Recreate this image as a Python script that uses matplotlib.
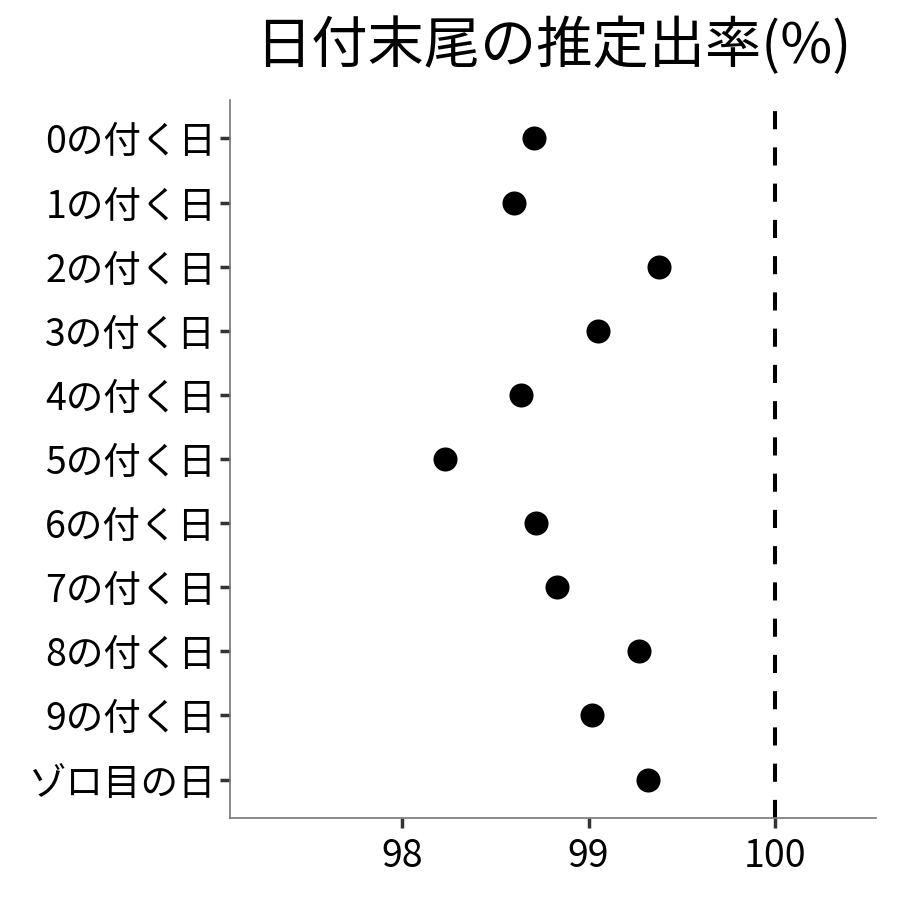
import matplotlib
matplotlib.use("Agg")
import matplotlib.pyplot as plt

plt.rcParams['font.family'] = ['Noto Sans CJK JP', 'DejaVu Sans']

# データ（図から読み取った推定値）
labels = ['0の付く日', '1の付く日', '2の付く日', '3の付く日', '4の付く日',
          '5の付く日', '6の付く日', '7の付く日', '8の付く日', '9の付く日',
          'ゾロ目の日']
rates = [98.71, 98.60, 99.38, 99.05, 98.64, 98.23, 98.72, 98.83, 99.27, 99.02, 99.32]
xticks = [98, 99, 100]
ref_line = 100

fig = plt.figure(figsize=(9, 9), dpi=100)
ax = fig.add_axes([0.2556, 0.0911, 0.7178, 0.7978])

ypos = list(range(len(labels)))
ax.scatter(rates, ypos, s=300, color='black', zorder=3, linewidths=0)
ax.axvline(ref_line, color='black', lw=2.9, linestyle=(0, (4.5, 4.5)), zorder=2)

ax.set_yticks(ypos)
ax.set_yticklabels(labels, fontsize=27)
ax.set_xticks(xticks)
ax.set_xticklabels([str(t) for t in xticks], fontsize=27)
ax.set_ylim(len(labels) - 0.4, -0.6)
ax.set_xlim(97.08, 100.54)

for side in ['top', 'right']:
    ax.spines[side].set_visible(False)
for side in ['left', 'bottom']:
    ax.spines[side].set_color('#777777')
    ax.spines[side].set_linewidth(1.2)
ax.tick_params(axis='both', colors='#333333', length=7, width=2.5, labelcolor='black', pad=3)
ax.tick_params(axis='x', pad=7)

fig.text(0.6144, 0.948, '日付末尾の推定出率(%)', fontsize=40.5, ha='center', va='center')

fig.savefig('out.png', dpi=100)
